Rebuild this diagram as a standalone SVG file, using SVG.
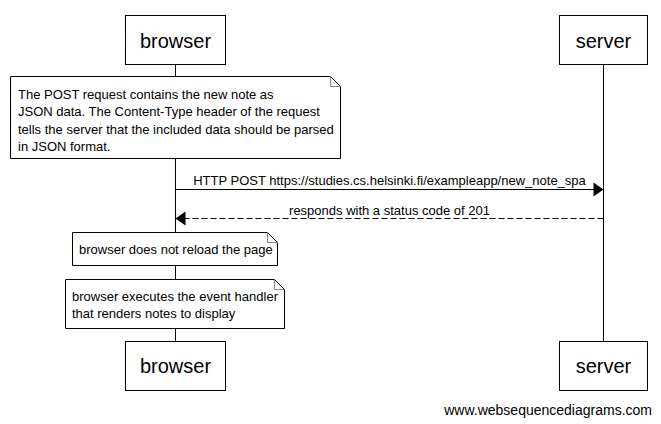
<svg xmlns="http://www.w3.org/2000/svg" width="661" height="424" viewBox="0 0 661 424">
<style>
text{font-family:"Liberation Sans",Arial,sans-serif;fill:#000}
.actor rect{fill:#fff;stroke:#000;stroke-width:1}
.actor text{font-size:20px;text-anchor:middle}
.life{stroke:#000;stroke-width:1}
.note .body{fill:#fff;stroke:#000;stroke-width:1}
.note .fold{fill:none;stroke:#888;stroke-width:1}
.note text{font-size:13px}
.msg{stroke:#000;stroke-width:1;fill:none}
.dash{stroke-dasharray:6,3}
.head{fill:#000;stroke:none}
.lbl{font-size:13px;text-anchor:middle}
.wm{font-size:14px;text-anchor:end}
</style>
<rect width="661" height="424" fill="#fff"/>
<g id="lifelines">
<line class="life" x1="175.5" y1="64.5" x2="175.5" y2="341.5"/>
<line class="life" x1="603.5" y1="64.5" x2="603.5" y2="341.5"/>
</g>
<g id="browser-top" class="actor"><rect x="125.5" y="15.5" width="100" height="49"/><text x="175.5" y="47.5">browser</text></g>
<g id="server-top" class="actor"><rect x="559.5" y="15.5" width="88" height="49"/><text x="603.5" y="47.5">server</text></g>
<g id="note1" class="note">
<path class="body" d="M10.5,76.5 H330.5 L340.5,86.5 V158.5 H10.5 Z"/>
<path class="fold" d="M330.5,76.5 V86.5 H340.5"/>
<text x="18" y="98.5">The POST request contains the new note as</text>
<text x="18" y="116">JSON data. The Content-Type header of the request</text>
<text x="18" y="133.5">tells the server that the included data should be parsed</text>
<text x="18" y="151">in JSON format.</text>
</g>
<g id="connectors">
<line class="msg" x1="175.5" y1="189.5" x2="594" y2="189.5"/>
<polygon class="head" points="603.5,189.5 593.5,182.5 593.5,196.5"/>
<text class="lbl" x="389.5" y="185">HTTP POST https://studies.cs.helsinki.fi/exampleapp/new_note_spa</text>
<line class="msg dash" x1="603.5" y1="218.5" x2="185" y2="218.5"/>
<polygon class="head" points="175.5,218.5 185.5,211.5 185.5,225.5"/>
<text class="lbl" x="389.5" y="214.5">responds with a status code of 201</text>
</g>
<g id="note2" class="note">
<path class="body" d="M72.5,232.5 H267.5 L277.5,242.5 V265.5 H72.5 Z"/>
<path class="fold" d="M267.5,232.5 V242.5 H277.5"/>
<text x="79" y="254.3">browser does not reload the page</text>
</g>
<g id="note3" class="note">
<path class="body" d="M65.5,279.5 H274.5 L284.5,289.5 V328.5 H65.5 Z"/>
<path class="fold" d="M274.5,279.5 V289.5 H284.5"/>
<text x="72" y="300.5">browser executes the event handler</text>
<text x="72" y="317.5">that renders notes to display</text>
</g>
<g id="browser-bottom" class="actor"><rect x="125.5" y="341.5" width="100" height="49"/><text x="175.5" y="373">browser</text></g>
<g id="server-bottom" class="actor"><rect x="559.5" y="341.5" width="88" height="49"/><text x="603.5" y="373">server</text></g>
<text class="wm" x="652" y="415">www.websequencediagrams.com</text>
</svg>
